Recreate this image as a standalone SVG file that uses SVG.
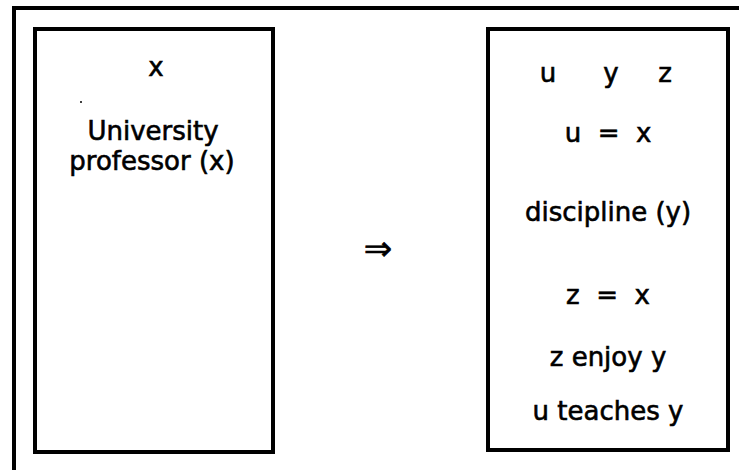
<svg xmlns="http://www.w3.org/2000/svg" width="739" height="470" viewBox="0 0 739 470">
  <style>
    .frame { fill: none; stroke: #000; stroke-width: 4; }
    .box { fill: #fff; stroke: #000; stroke-width: 4; }
    .t { font-family: "DejaVu Sans", "Liberation Sans", sans-serif; font-size: 26px; fill: #000; stroke: #000; stroke-width: 0.6; text-anchor: middle; }
  </style>
  <rect width="739" height="470" fill="#fff"/>
  <g id="outer-frame">
    <polyline class="frame" points="14,472 14,8 741,8"/>
  </g>
  <g id="left-box">
    <rect class="box" x="35" y="29" width="238" height="423"/>
    <text class="t" x="156" y="76">x</text>
    <circle cx="81" cy="102" r="1" fill="#000"/>
    <text class="t" x="153" y="140">University</text>
    <text class="t" x="152" y="170">professor (x)</text>
  </g>
  <g id="connectors">
    <text class="t" x="378" y="260" style="font-size:34px">⇒</text>
  </g>
  <g id="right-box">
    <rect class="box" x="488" y="29" width="240" height="421"/>
    <text class="t" x="548" y="82">u</text>
    <text class="t" x="611" y="82">y</text>
    <text class="t" x="665" y="82">z</text>
    <text class="t" x="608" y="142" xml:space="preserve">u  =  x</text>
    <text class="t" x="608" y="221">discipline (y)</text>
    <text class="t" x="608" y="304" xml:space="preserve">z  =  x</text>
    <text class="t" x="608" y="366">z enjoy y</text>
    <text class="t" x="608" y="420">u teaches y</text>
  </g>
</svg>
